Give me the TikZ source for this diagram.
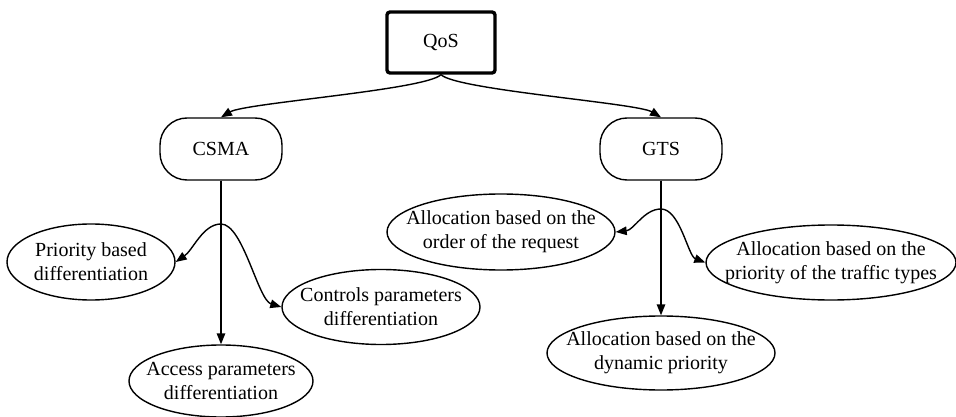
\documentclass[tikz,border=0pt]{standalone}
\usepackage{fontspec}
\setmainfont{Liberation Serif}
\usetikzlibrary{shapes.geometric,arrows.meta}
\begin{document}
\begin{tikzpicture}[x=1pt,y=-1pt,
  every node/.style={font=\fontsize{20}{24}\selectfont, align=center, inner sep=0pt},
  ell/.style={draw, ellipse, line width=1.4pt},
  pill/.style={draw, rounded corners=27pt, line width=1.4pt, minimum width=122pt, minimum height=62pt},
  root/.style={draw, rounded corners=3pt, line width=3.4pt, minimum width=108pt, minimum height=61pt},
  conn/.style={line width=1.4pt, -{Triangle[length=11pt,width=8.5pt]}},
  plain/.style={line width=1.4pt}]
\useasboundingbox (0,0) rectangle (956,417);
\node[root] (qos) at (441,42.5) {QoS};
\node[pill] (csma) at (221,149) {CSMA};
\node[pill] (gts) at (661,149) {GTS};
\node[ell, minimum width=168pt, minimum height=76pt] (prio) at (91,262) {};
\node (priot) at (prio) {Priority based\\differentiation};
\node[ell, minimum width=198pt, minimum height=75pt] (ctrl) at (381,307) {};
\node (ctrlt) at (ctrl) {Controls parameters\\differentiation};
\node[ell, minimum width=184pt, minimum height=72pt] (acc) at (221,381) {};
\node (acct) at (acc) {Access parameters\\differentiation};
\node[ell, minimum width=228pt, minimum height=76pt] (ord) at (501,232) {};
\node (ordt) at (ord) {Allocation based on the\\order of the request};
\node[ell, minimum width=250pt, minimum height=75pt] (traf) at (831,262.5) {};
\node (traft) at (traf) {Allocation based on the\\priority of the traffic types};
\node[ell, minimum width=228pt, minimum height=74pt] (dyn) at (661,353) {};
\node (dynt) at (dyn) {Allocation based on the\\dynamic priority};
\coordinate (cp) at (221,224);
\coordinate (gp) at (661,209);
\draw[conn] (qos.south) .. controls (425,90) and (245,103) .. (csma.north);
\draw[conn] (qos.south) .. controls (457,90) and (637,103) .. (gts.north);
\draw[conn] (csma.south) -- (acc.north);
\draw[plain] (csma.south) -- (cp);
\draw[conn] (cp) .. controls (203,224) and (193,250) .. (prio.east);
\draw[conn] (cp) .. controls (243,224) and (258,300) .. (ctrl.west);
\draw[conn] (gts.south) -- (dyn.north);
\draw[plain] (gts.south) -- (gp);
\draw[conn] (gp) .. controls (644,209) and (634,230) .. (ord.east);
\draw[conn] (gp) .. controls (680,209) and (688,256) .. (traf.west);
\end{tikzpicture}
\end{document}
